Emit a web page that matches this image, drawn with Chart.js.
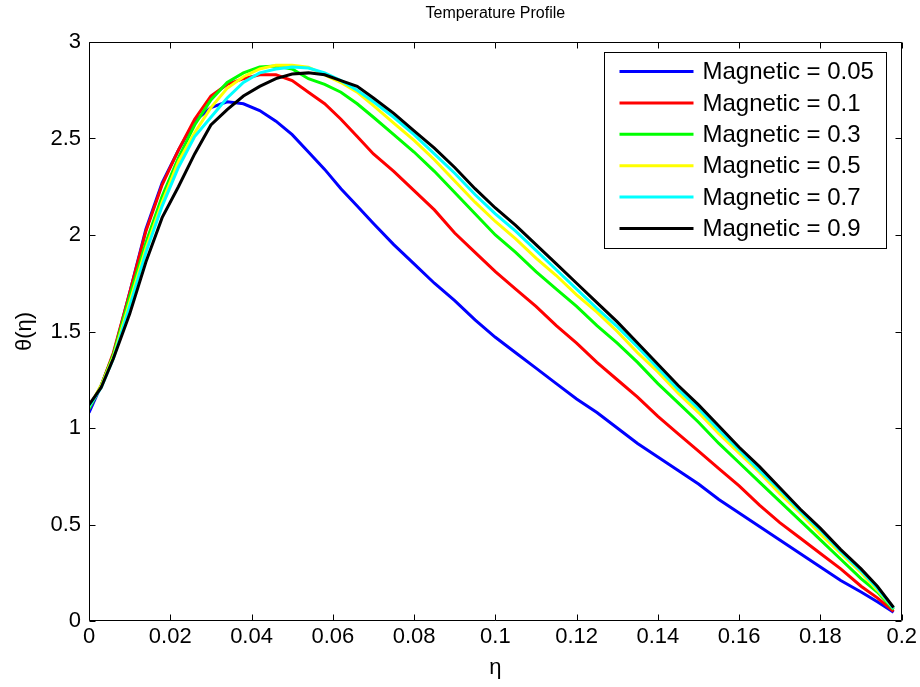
<!DOCTYPE html>
<html><head><meta charset="utf-8">
<script src="https://cdn.jsdelivr.net/npm/chart.js@4/dist/chart.umd.min.js"></script>
<style>html,body{margin:0;padding:0;background:#fff}canvas{display:block}</style>
</head><body>
<canvas id="c" width="920" height="687"></canvas>
<script>
const eta = [0, 0.003, 0.006, 0.01, 0.014, 0.018, 0.022, 0.026, 0.03, 0.034, 0.038, 0.042, 0.046, 0.05, 0.054, 0.058, 0.062, 0.066,
  0.07, 0.075, 0.08, 0.085, 0.09, 0.095, 0.1, 0.105, 0.11, 0.115, 0.12, 0.125, 0.13, 0.135, 0.14, 0.145, 0.15, 0.155, 0.16, 0.165,
  0.17, 0.175, 0.18, 0.185, 0.19, 0.194, 0.198];

const seriesLabels = ['Magnetic = 0.05', 'Magnetic = 0.1', 'Magnetic = 0.3', 'Magnetic = 0.5', 'Magnetic = 0.7', 'Magnetic = 0.9'];
const seriesColors = ['#0000ff', '#ff0000', '#00ff00', '#ffff00', '#00ffff', '#000000'];

const m005 = [1.08, 1.22, 1.38, 1.70, 2.03, 2.27, 2.44, 2.59, 2.66, 2.69, 2.68, 2.645, 2.59, 2.52, 2.43, 2.34, 2.24, 2.15,
  2.06, 1.95, 1.85, 1.75, 1.66, 1.56, 1.47, 1.39, 1.31, 1.23, 1.15, 1.08, 1.00, 0.92, 0.85, 0.78, 0.71, 0.63, 0.56, 0.49,
  0.42, 0.35, 0.28, 0.21, 0.15, 0.10, 0.045];
const m01 = [1.10, 1.22, 1.39, 1.70, 2.02, 2.26, 2.44, 2.60, 2.72, 2.78, 2.81, 2.83, 2.83, 2.80, 2.74, 2.68, 2.60, 2.51,
  2.42, 2.33, 2.23, 2.13, 2.01, 1.91, 1.81, 1.72, 1.63, 1.53, 1.44, 1.34, 1.25, 1.16, 1.06, 0.97, 0.88, 0.79, 0.70, 0.60,
  0.51, 0.43, 0.35, 0.27, 0.18, 0.12, 0.05];
const m03 = [1.10, 1.22, 1.38, 1.68, 1.96, 2.20, 2.40, 2.57, 2.70, 2.79, 2.84, 2.87, 2.875, 2.86, 2.81, 2.78, 2.74, 2.68,
  2.61, 2.52, 2.43, 2.33, 2.22, 2.11, 2.00, 1.91, 1.81, 1.72, 1.63, 1.53, 1.44, 1.34, 1.23, 1.13, 1.03, 0.92, 0.82, 0.72,
  0.62, 0.52, 0.42, 0.32, 0.22, 0.15, 0.06];
const m05 = [1.11, 1.22, 1.37, 1.65, 1.93, 2.17, 2.38, 2.53, 2.66, 2.76, 2.82, 2.86, 2.88, 2.88, 2.87, 2.83, 2.79, 2.74,
  2.67, 2.58, 2.49, 2.39, 2.28, 2.17, 2.07, 1.98, 1.88, 1.79, 1.69, 1.60, 1.50, 1.39, 1.29, 1.18, 1.08, 0.97, 0.87, 0.77,
  0.66, 0.56, 0.45, 0.35, 0.25, 0.16, 0.065];
const m07 = [1.11, 1.21, 1.36, 1.63, 1.91, 2.15, 2.35, 2.51, 2.61, 2.71, 2.79, 2.84, 2.86, 2.87, 2.865, 2.84, 2.80, 2.75,
  2.69, 2.61, 2.52, 2.42, 2.32, 2.21, 2.11, 2.02, 1.92, 1.82, 1.72, 1.62, 1.525, 1.42, 1.31, 1.20, 1.10, 0.99, 0.886, 0.78,
  0.68, 0.57, 0.47, 0.36, 0.26, 0.17, 0.065];
const m09 = [1.12, 1.21, 1.36, 1.59, 1.86, 2.09, 2.25, 2.42, 2.57, 2.65, 2.72, 2.77, 2.81, 2.834, 2.84, 2.83, 2.80, 2.77,
  2.71, 2.63, 2.54, 2.45, 2.35, 2.24, 2.14, 2.05, 1.95, 1.85, 1.75, 1.65, 1.55, 1.44, 1.33, 1.22, 1.12, 1.01, 0.90, 0.80,
  0.69, 0.58, 0.48, 0.37, 0.27, 0.18, 0.07];

const xTickValues = [0, 0.02, 0.04, 0.06, 0.08, 0.1, 0.12, 0.14, 0.16, 0.18, 0.2];
const xTickLabels = ['0', '0.02', '0.04', '0.06', '0.08', '0.1', '0.12', '0.14', '0.16', '0.18', '0.2'];
const yTickValues = [0, 0.5, 1, 1.5, 2, 2.5, 3];
const yTickLabels = ['0', '0.5', '1', '1.5', '2', '2.5', '3'];

const chartTitle = 'Temperature Profile';
const xTitle = 'η';
const yTitle = 'θ(η)';

const FONT = '"Liberation Sans", Arial, Helvetica, sans-serif';
Chart.defaults.font.family = FONT;
Chart.defaults.color = '#000';

const seriesValues = [m005, m01, m03, m05, m07, m09];
const datasets = seriesValues.map((vals, i) => ({
  label: seriesLabels[i],
  data: eta.map((x, j) => ({ x: x, y: vals[j] })),
  borderColor: seriesColors[i],
  backgroundColor: seriesColors[i],
  borderWidth: 3,
  pointRadius: 0,
  pointHoverRadius: 0,
  tension: 0,
  fill: false,
  order: seriesValues.length - 1 - i
}));

const matlabFrame = {
  id: 'matlabFrame',
  afterDraw(chart) {
    const ctx = chart.ctx;
    const a = chart.chartArea;
    const xs = chart.scales.x, ys = chart.scales.y;
    ctx.save();
    ctx.strokeStyle = '#000';
    ctx.lineWidth = 1;
    const L = Math.round(a.left) + 0.5, R = Math.round(a.right) - 0.5;
    const T = Math.round(a.top) + 0.5, B = Math.round(a.bottom) - 0.5;
    ctx.beginPath();
    ctx.rect(L, T, R - L, B - T);
    ctx.stroke();
    const tl = 6;
    ctx.beginPath();
    xs.ticks.forEach(t => {
      const px = Math.round(xs.getPixelForValue(t.value)) + 0.5;
      ctx.moveTo(px, B); ctx.lineTo(px, B - tl);
      ctx.moveTo(px, T); ctx.lineTo(px, T + tl);
    });
    ys.ticks.forEach(t => {
      const py = Math.round(ys.getPixelForValue(t.value)) + 0.5;
      ctx.moveTo(L, py); ctx.lineTo(L + tl, py);
      ctx.moveTo(R, py); ctx.lineTo(R - tl, py);
    });
    ctx.stroke();
    ctx.fillStyle = '#000';
    ctx.font = '16px ' + FONT;
    ctx.textAlign = 'center';
    ctx.textBaseline = 'middle';
    ctx.fillText(chartTitle, (a.left + a.right) / 2, 14);
    const bx = Math.round(a.right) - 298 + 0.5, by = Math.round(a.top) + 10 + 0.5;
    const bw = 282, bh = 196;
    ctx.fillStyle = '#fff';
    ctx.fillRect(bx, by, bw, bh);
    ctx.strokeStyle = '#000';
    ctx.lineWidth = 1;
    ctx.strokeRect(bx, by, bw, bh);
    ctx.font = '24px ' + FONT;
    ctx.textAlign = 'left';
    ctx.textBaseline = 'middle';
    chart.data.datasets.forEach((ds, i) => {
      const y = by + 19 + i * 31.4;
      ctx.strokeStyle = ds.borderColor;
      ctx.lineWidth = 3;
      ctx.beginPath();
      ctx.moveTo(bx + 15, y);
      ctx.lineTo(bx + 89, y);
      ctx.stroke();
      ctx.fillStyle = '#000';
      ctx.fillText(ds.label, bx + 98, y + 1);
    });
    ctx.restore();
  }
};

new Chart(document.getElementById('c'), {
  type: 'line',
  data: { datasets: datasets },
  options: {
    responsive: false,
    devicePixelRatio: 1,
    animation: false,
    layout: { padding: { top: 42, right: 17, bottom: 0, left: 0 } },
    plugins: {
      legend: { display: false },
      title: { display: false },
      tooltip: { enabled: false }
    },
    scales: {
      x: {
        type: 'linear',
        min: 0, max: 0.2,
        afterBuildTicks: s => { s.ticks = xTickValues.map(v => ({ value: v })); },
        afterFit: s => { s.height = 66; },
        ticks: {
          callback: (v, i) => xTickLabels[i],
          font: { size: 22 },
          color: '#000',
          padding: 3,
          maxRotation: 0,
          autoSkip: false
        },
        grid: { display: false, drawTicks: false },
        border: { display: false },
        title: { display: true, text: xTitle, font: { size: 22 }, color: '#000', padding: { top: 0, bottom: 6 } }
      },
      y: {
        type: 'linear',
        min: 0, max: 3,
        afterBuildTicks: s => { s.ticks = yTickValues.map(v => ({ value: v })); },
        afterFit: s => { s.width = 89; },
        ticks: {
          callback: (v, i) => yTickLabels[i],
          font: { size: 22 },
          color: '#000',
          padding: 8,
          autoSkip: false
        },
        grid: { display: false, drawTicks: false },
        border: { display: false },
        title: { display: true, text: yTitle, font: { size: 22 }, color: '#000', padding: { top: 12, bottom: 0 } }
      }
    }
  },
  plugins: [matlabFrame]
});
</script>
</body></html>
